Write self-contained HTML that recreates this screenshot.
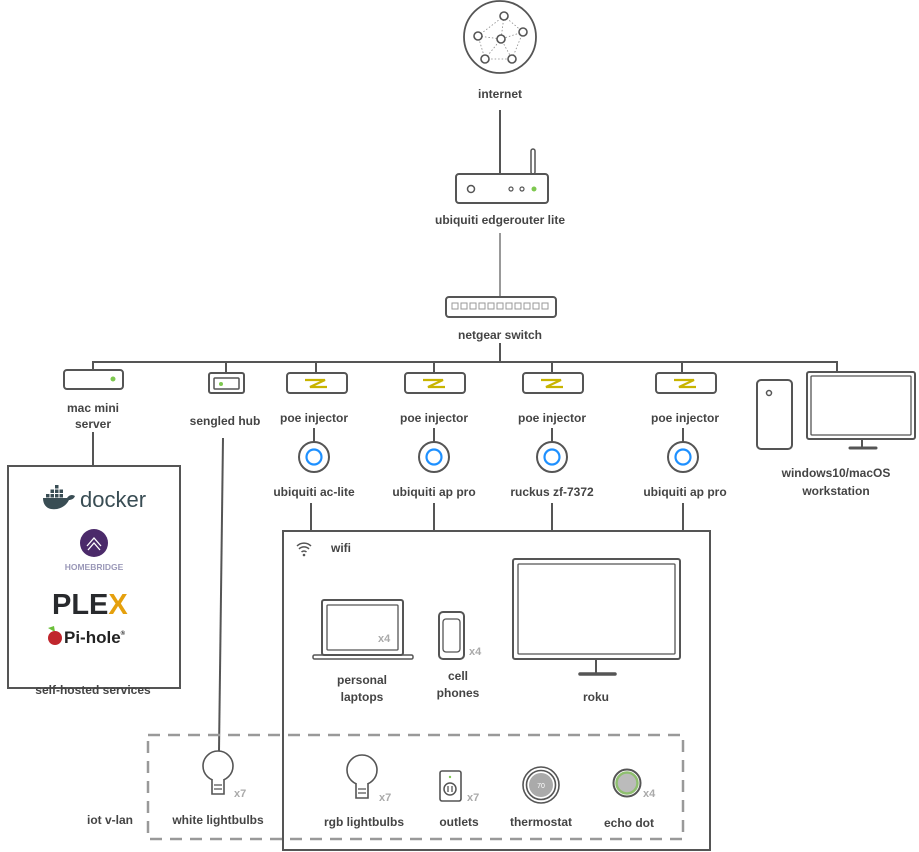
<!DOCTYPE html>
<html><head><meta charset="utf-8"><style>
html,body{margin:0;padding:0;background:#fff;}
svg{display:block;font-family:"Liberation Sans",sans-serif;}
.l{font-size:12px;fill:#444;text-anchor:middle;font-weight:bold;}
.x{font-size:11px;fill:#aaa;font-weight:bold;}
</style></head><body>
<svg width="919" height="852" viewBox="0 0 919 852" xmlns="http://www.w3.org/2000/svg">
<g fill="none" stroke="#555" stroke-width="2">
<!-- internet -->
<circle cx="500" cy="37" r="36" stroke-width="1.8"/>
<g stroke="#888" stroke-width="0.8" stroke-dasharray="1.5 2">
<path d="M504 16 L478 36 L485 59 L512 59 L523 32 Z M504 16 L501 39 M478 36 L501 39 L523 32 M485 59 L501 39 L512 59"/>
</g>
<g fill="#fff" stroke-width="1.6">
<circle cx="504" cy="16" r="4"/><circle cx="478" cy="36" r="4"/><circle cx="501" cy="39" r="4"/><circle cx="523" cy="32" r="4"/><circle cx="485" cy="59" r="4"/><circle cx="512" cy="59" r="4"/>
</g>
<line x1="500" y1="110" x2="500" y2="174"/>
<!-- router -->
<rect x="531" y="149" width="4" height="25" rx="2" stroke-width="1.5"/>
<rect x="456" y="174" width="92" height="29" rx="3"/>
<circle cx="471" cy="189" r="3.5" stroke-width="1.5"/>
<circle cx="511" cy="189" r="2" stroke-width="1.2"/><circle cx="522" cy="189" r="2" stroke-width="1.2"/>
<circle cx="534" cy="189" r="2.5" fill="#7ec850" stroke="none"/>
<line x1="500" y1="233" x2="500" y2="296" stroke="#999"/>
<!-- switch -->
<rect x="446" y="297" width="110" height="20" rx="3"/>
<g stroke="#999" stroke-width="1">
<rect x="452" y="303" width="6" height="6"/><rect x="461" y="303" width="6" height="6"/><rect x="470" y="303" width="6" height="6"/><rect x="479" y="303" width="6" height="6"/><rect x="488" y="303" width="6" height="6"/><rect x="497" y="303" width="6" height="6"/><rect x="506" y="303" width="6" height="6"/><rect x="515" y="303" width="6" height="6"/><rect x="524" y="303" width="6" height="6"/><rect x="533" y="303" width="6" height="6"/><rect x="542" y="303" width="6" height="6"/>
</g>
<!-- bus -->
<line x1="500" y1="343" x2="500" y2="362"/>
<path d="M93 370 V362 H837 V372"/>
<line x1="226" y1="362" x2="226" y2="374"/>
<line x1="316" y1="362" x2="316" y2="373"/><line x1="434" y1="362" x2="434" y2="373"/><line x1="552" y1="362" x2="552" y2="373"/><line x1="682" y1="362" x2="682" y2="373"/>
<!-- mac mini -->
<rect x="64" y="370" width="59" height="19" rx="3"/>
<circle cx="113" cy="379" r="2.5" fill="#7ec850" stroke="none"/>
<line x1="93" y1="432" x2="93" y2="466"/>
<rect x="8" y="466" width="172" height="222"/>
<!-- sengled -->
<rect x="209" y="373" width="35" height="20" rx="2"/>
<rect x="214" y="378" width="25" height="11" rx="1" stroke-width="1.5"/>
<circle cx="221" cy="384" r="2" fill="#7ec850" stroke="none"/>
<line x1="223" y1="438" x2="219" y2="751"/>
<!-- poe -->
<g>
<rect x="287" y="373" width="60" height="20" rx="3"/>
<rect x="405" y="373" width="60" height="20" rx="3"/>
<rect x="523" y="373" width="60" height="20" rx="3"/>
<rect x="656" y="373" width="60" height="20" rx="3"/>
</g>
<g stroke="#c8b400" stroke-width="2.2">
<path d="M306 380 H326 L311 387 H328" transform="translate(-1,0)"/>
<path d="M424 380 H444 L429 387 H446" transform="translate(-1,0)"/>
<path d="M542 380 H562 L547 387 H564" transform="translate(-1,0)"/>
<path d="M675 380 H695 L680 387 H697" transform="translate(-1,0)"/>
</g>
<line x1="314" y1="428" x2="314" y2="442"/><line x1="434" y1="428" x2="434" y2="442"/><line x1="552" y1="428" x2="552" y2="442"/><line x1="683" y1="428" x2="683" y2="442"/>
<g><circle cx="314" cy="457" r="15"/><circle cx="434" cy="457" r="15"/><circle cx="552" cy="457" r="15"/><circle cx="683" cy="457" r="15"/></g>
<g stroke="#1e90ff" stroke-width="2.2"><circle cx="314" cy="457" r="7.5"/><circle cx="434" cy="457" r="7.5"/><circle cx="552" cy="457" r="7.5"/><circle cx="683" cy="457" r="7.5"/></g>
<line x1="311" y1="503" x2="311" y2="531"/><line x1="434" y1="503" x2="434" y2="531"/><line x1="552" y1="503" x2="552" y2="531"/><line x1="683" y1="503" x2="683" y2="531"/>
<!-- workstation -->
<rect x="757" y="380" width="35" height="69" rx="4"/>
<circle cx="769" cy="393" r="2.5" stroke-width="1.5"/>
<rect x="807" y="372" width="108" height="67" rx="2"/>
<rect x="811" y="376" width="100" height="59" rx="1" stroke-width="1.3"/>
<line x1="862" y1="439" x2="862" y2="447"/><line x1="850" y1="448" x2="876" y2="448" stroke-width="3" stroke-linecap="round"/>
<!-- wifi box -->
<rect x="283" y="531" width="427" height="319"/>
<g stroke-width="1.5"><path d="M297 546 a10 10 0 0 1 14 0 M299 549 a7 7 0 0 1 10 0 M301.5 552 a3.5 3.5 0 0 1 5 0"/></g>
<circle cx="304" cy="555" r="1.3" fill="#555" stroke="none"/>
<!-- laptop -->
<rect x="322" y="600" width="81" height="55" rx="2"/>
<rect x="327" y="605" width="71" height="45" rx="1" stroke-width="1.3"/>
<rect x="313" y="655" width="100" height="4" rx="1.5" stroke-width="1.5"/>
<!-- phone -->
<rect x="439" y="612" width="25" height="47" rx="4"/>
<rect x="443" y="619" width="17" height="33" rx="3" stroke-width="1.3"/>
<!-- tv -->
<rect x="513" y="559" width="167" height="100" rx="2"/>
<rect x="518" y="564" width="157" height="90" rx="1" stroke-width="1.3"/>
<line x1="596" y1="659" x2="596" y2="673"/><line x1="580" y1="674" x2="615" y2="674" stroke-width="3.5" stroke-linecap="round"/>
<!-- iot -->
<rect x="148" y="735" width="535" height="104" stroke="#999" stroke-width="2.5" stroke-dasharray="12 8"/>
<!-- bulbs -->
<g>
<circle cx="218" cy="766" r="15" fill="#fff" stroke-width="1.6"/>
<path d="M212 779 V794 H224 V779" stroke-width="1.6" fill="#fff"/>
<path d="M214 785 H222 M214 789 H222" stroke-width="1.2"/>
<circle cx="362" cy="770" r="15" fill="#fff" stroke-width="1.6"/>
<path d="M356 783 V798 H368 V783" stroke-width="1.6" fill="#fff"/>
<path d="M358 789 H366 M358 793 H366" stroke-width="1.2"/>
</g>
<!-- outlet -->
<rect x="440" y="771" width="21" height="30" rx="2" stroke-width="1.6"/>
<circle cx="450" cy="789" r="6" stroke-width="1.5"/>
<path d="M448 786 V792 M452 786 V792" stroke-width="1.3"/>
<circle cx="450" cy="777" r="1.2" fill="#7ec850" stroke="none"/>
<!-- thermostat -->
<circle cx="541" cy="785" r="18" stroke-width="1.6"/>
<circle cx="541" cy="785" r="14.5" stroke-width="1.6"/>
<circle cx="541" cy="785" r="12" fill="#aaa" stroke="none"/>
<!-- echo -->
<circle cx="627" cy="783" r="13.5" stroke="#555" stroke-width="2"/>
<circle cx="627" cy="783" r="10.5" stroke="#8fbf70" stroke-width="2.5" fill="#bbb"/>
</g>
<text x="541" y="788" font-size="7" fill="#fff" text-anchor="middle">70</text>
<!-- logos -->
<g>
<path d="M43 498 h24 c2 -3 5 -4 8 -2 c-1 3 -4 4 -6 4 c-4 8 -12 10 -18 9 c-5 -1 -8 -5 -8 -11z" fill="#394d54"/>
<g fill="#394d54"><rect x="46" y="494" width="3.5" height="3.5"/><rect x="50.5" y="494" width="3.5" height="3.5"/><rect x="55" y="494" width="3.5" height="3.5"/><rect x="59.5" y="494" width="3.5" height="3.5"/><rect x="50.5" y="489.5" width="3.5" height="3.5"/><rect x="55" y="489.5" width="3.5" height="3.5"/><rect x="59.5" y="489.5" width="3.5" height="3.5"/><rect x="55" y="485" width="3.5" height="3.5"/></g>
<text x="80" y="507" font-size="22" fill="#394d54">docker</text>
<circle cx="94" cy="543" r="14" fill="#4b2a6a"/>
<path d="M87 546 l7 -8 l7 8 M88 550 l6 -7 l6 7" stroke="#fff" stroke-width="1.3" fill="none"/>
<text x="94" y="570" font-size="8.5" fill="#9a98b8" text-anchor="middle" font-weight="bold">HOMEBRIDGE</text>
<text x="52" y="614" font-size="29" fill="#282a2d" font-weight="bold" font-family="Liberation Sans">PLE<tspan fill="#e5a00d">X</tspan></text>
<path d="M48 628 l7 4 l-1 -6z" fill="#6bbf3a"/>
<circle cx="55" cy="638" r="7" fill="#c0262d"/>
<text x="64" y="643" font-size="17" fill="#222" font-weight="bold">Pi-hole<tspan font-size="6" dy="-8">®</tspan></text>
</g>
<!-- labels -->
<text class="l" x="500" y="98">internet</text>
<text class="l" x="500" y="224">ubiquiti edgerouter lite</text>
<text class="l" x="500" y="339">netgear switch</text>
<text class="l" x="93" y="412" font-size="11">mac mini</text>
<text class="l" x="93" y="428" font-size="11">server</text>
<text class="l" x="225" y="425">sengled hub</text>
<text class="l" x="314" y="422">poe injector</text>
<text class="l" x="434" y="422">poe injector</text>
<text class="l" x="552" y="422">poe injector</text>
<text class="l" x="685" y="422">poe injector</text>
<text class="l" x="314" y="496">ubiquiti ac-lite</text>
<text class="l" x="434" y="496">ubiquiti ap pro</text>
<text class="l" x="552" y="496">ruckus zf-7372</text>
<text class="l" x="685" y="496">ubiquiti ap pro</text>
<text class="l" x="836" y="477">windows10/macOS</text>
<text class="l" x="836" y="495">workstation</text>
<text class="l" x="93" y="694">self-hosted services</text>
<text class="l" x="331" y="552" style="text-anchor:start">wifi</text>
<text class="x" x="378" y="642">x4</text>
<text class="x" x="469" y="655">x4</text>
<text class="l" x="362" y="684">personal</text>
<text class="l" x="362" y="701">laptops</text>
<text class="l" x="458" y="680" font-size="9">cell</text>
<text class="l" x="458" y="697">phones</text>
<text class="l" x="596" y="701">roku</text>
<text class="l" x="110" y="824">iot v-lan</text>
<text class="x" x="234" y="797">x7</text>
<text class="x" x="379" y="801">x7</text>
<text class="x" x="467" y="801">x7</text>
<text class="x" x="643" y="797">x4</text>
<text class="l" x="218" y="824">white lightbulbs</text>
<text class="l" x="364" y="826">rgb lightbulbs</text>
<text class="l" x="459" y="826">outlets</text>
<text class="l" x="541" y="826">thermostat</text>
<text class="l" x="629" y="827">echo dot</text>
</svg>
</body></html>
